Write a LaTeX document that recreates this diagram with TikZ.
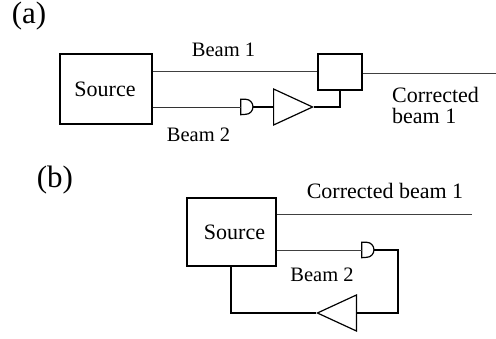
\documentclass[tikz,border=0pt]{standalone}
\usepackage{fontspec}
\setmainfont{Liberation Serif}
\usetikzlibrary{shapes.geometric,calc}
\tikzset{
  x=1pt,y=-1pt,
  box/.style={draw,line width=1.4pt,inner sep=0pt},
  wire/.style={line width=1.3pt,line join=miter},
  srcwire/.style={line width=0.9pt,black!80},
  thin wire/.style={line width=0.8pt,black!75},
  detbox/.style={inner sep=0pt,minimum width=12pt,minimum height=15pt},
  amp/.style={draw,line width=1.2pt,isosceles triangle,isosceles triangle stretches,inner sep=0pt,minimum width=36pt,minimum height=39pt,anchor=lower side},
  lbl/.style={inner sep=0pt,font=\fontsize{22}{21}\selectfont,align=left},
  beamlbl/.style={inner sep=0pt,font=\fontsize{20.5}{24}\selectfont},
  big/.style={inner sep=0pt,font=\fontsize{31}{34}\selectfont},
}
\newcommand{\detshape}[1]{\draw[line width=1.2pt] (#1.north west) -- ($(#1.north west)!0.4!(#1.north east)$) arc[start angle=90,end angle=-90,x radius=7.2pt,y radius=7.5pt] -- (#1.south west) -- cycle;}
\begin{document}
\begin{tikzpicture}
\useasboundingbox (0,0) rectangle (496,339);
% (a)
\node[big] (la) at (29,16) {(a)};
\node[box,minimum width=92pt,minimum height=70pt] (srca) at (106,89) {};
\node[lbl] (srcat) at (105,89.5) {Source};
\node[box,minimum width=44pt,minimum height=36pt] (corr) at (340,72) {};
\node[detbox] (deta) at (247,107) {};
\detshape{deta}
\node[amp] (ampa) at (273,107) {};
\coordinate (oa) at (496,73);
\draw[thin wire] (srca.east |- 0,71) -- (corr.west |- 0,71);
\draw[thin wire] (corr.east |- oa) -- (oa);
\draw[srcwire] (srca.east |- deta.west) -- (deta.west);
\draw[wire] (deta.east) -- (ampa.lower side);
\draw[wire] (ampa.apex) -| (corr.south);
\node[beamlbl] (b1a) at (223.5,49.5) {Beam 1};
\node[beamlbl] (b2a) at (198.5,135) {Beam 2};
\node[lbl,anchor=west] (cba) at (392,105) {Corrected\\beam 1};
% (b)
\node[big] (lb) at (55,180) {(b)};
\node[box,minimum width=89pt,minimum height=68pt] (srcb) at (231.5,232) {};
\node[lbl] (srcbt) at (234.5,232) {Source};
\node[detbox] (detb) at (368,250) {};
\detshape{detb}
\node[amp,shape border rotate=180] (ampb) at (357,313) {};
\coordinate (ob) at (472,214);
\coordinate (rb) at (398,250);
\draw[thin wire] (srcb.east |- ob) -- (ob);
\draw[thin wire] (srcb.east |- detb.west) -- (detb.west);
\draw[wire] (detb.east) -- (rb) -- (rb |- ampb.lower side) -- (ampb.lower side);
\draw[wire] (ampb.apex) -| (231,266);
\node[lbl] (cbb) at (385,191) {Corrected beam 1};
\node[beamlbl] (b2b) at (322,275) {Beam 2};
\end{tikzpicture}
\end{document}
